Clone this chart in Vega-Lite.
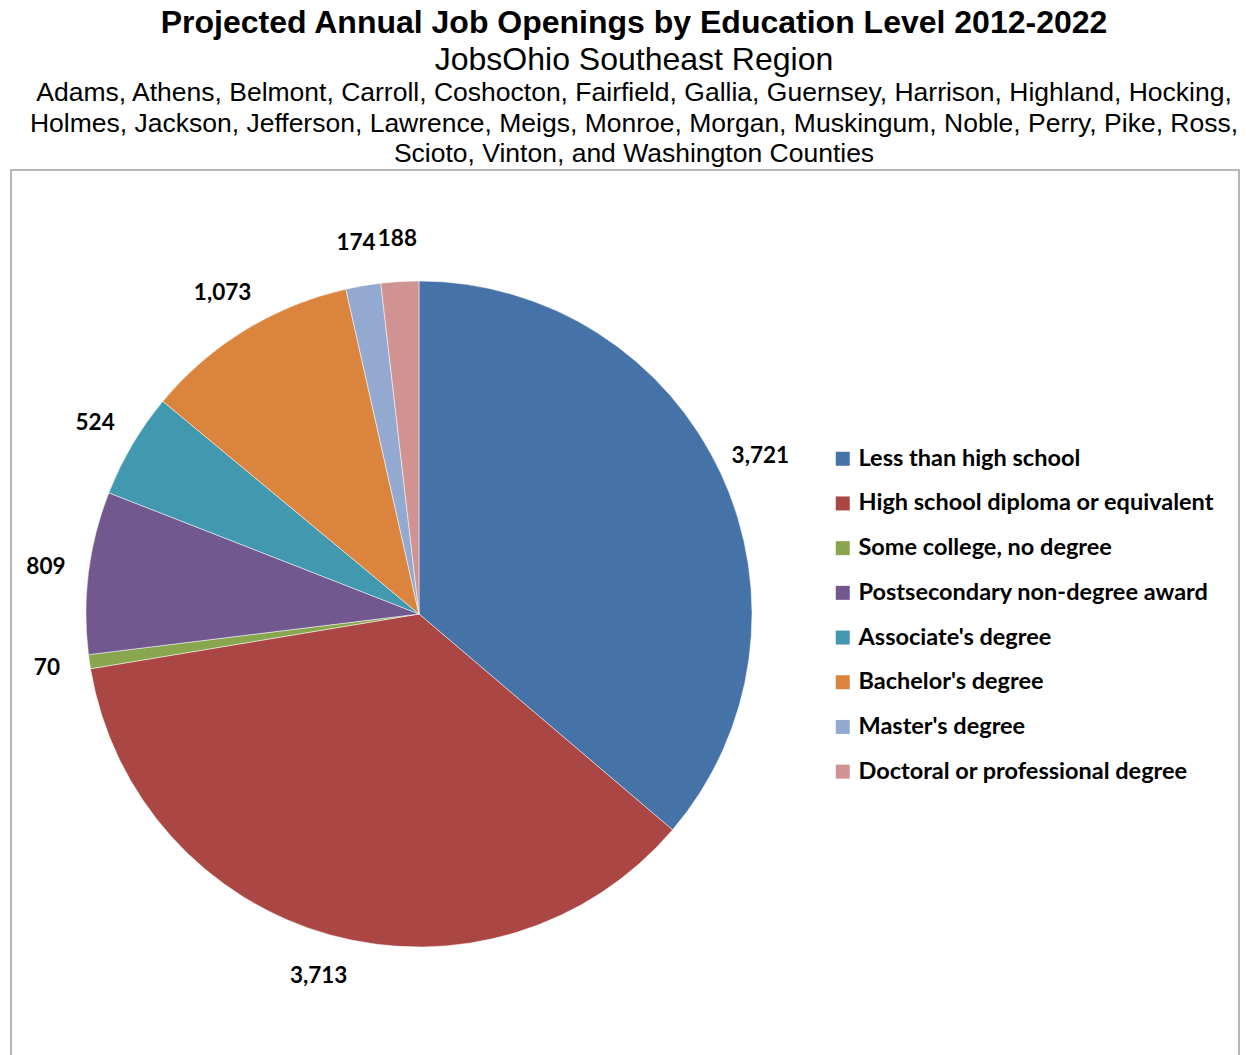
{
  "$schema": "https://vega.github.io/schema/vega-lite/v6.json",
  "background": "white",
  "padding": {"left": 10, "top": 7, "right": 0, "bottom": 0},
  "title": {
    "text": "Projected Annual Job Openings by Education Level 2012-2022",
    "subtitle": "JobsOhio Southeast Region",
    "font": "Liberation Sans",
    "fontSize": 32,
    "fontWeight": "bold",
    "color": "#000000",
    "subtitleFont": "Liberation Sans",
    "subtitleFontSize": 32,
    "subtitleColor": "#000000",
    "subtitlePadding": 5,
    "anchor": "middle",
    "offset": 2,
    "dx": 9
  },
  "datasets": {
    "jobs": [
      {"level": "Less than high school", "openings": 3721, "ord": 1},
      {"level": "High school diploma or equivalent", "openings": 3713, "ord": 2},
      {"level": "Some college, no degree", "openings": 70, "ord": 3},
      {"level": "Postsecondary non-degree award", "openings": 809, "ord": 4},
      {"level": "Associate's degree", "openings": 524, "ord": 5},
      {"level": "Bachelor's degree", "openings": 1073, "ord": 6},
      {"level": "Master's degree", "openings": 174, "ord": 7},
      {"level": "Doctoral or professional degree", "openings": 188, "ord": 8}
    ]
  },
  "vconcat": [
    {
      "title": {
        "text": [
          "Adams, Athens, Belmont, Carroll, Coshocton, Fairfield, Gallia, Guernsey, Harrison, Highland, Hocking,",
          "Holmes, Jackson, Jefferson, Lawrence, Meigs, Monroe, Morgan, Muskingum, Noble, Perry, Pike, Ross,",
          "Scioto, Vinton, and Washington Counties"
        ],
        "font": "Liberation Sans",
        "fontSize": 26.5,
        "fontWeight": "normal",
        "lineHeight": 30.7,
        "color": "#000000",
        "anchor": "middle",
        "offset": 2,
        "dx": 9
      },
      "width": 1228,
      "height": 900,
      "view": {"stroke": "#a0a0a0", "strokeWidth": 1.5, "fill": "white"},
      "data": {"name": "jobs"},
      "encoding": {
        "theta": {"field": "openings", "type": "quantitative", "stack": true},
        "order": {"field": "ord", "type": "quantitative"}
      },
      "layer": [
        {
          "mark": {"type": "arc", "x": 408, "y": 444, "outerRadius": 333, "stroke": "white", "strokeWidth": 0.5},
          "encoding": {
            "color": {
              "field": "level",
              "type": "nominal",
              "sort": {"field": "ord"},
              "scale": {
                "domain": ["Less than high school", "High school diploma or equivalent", "Some college, no degree", "Postsecondary non-degree award", "Associate's degree", "Bachelor's degree", "Master's degree", "Doctoral or professional degree"],
                "range": ["#4572A7", "#AA4643", "#89A54E", "#71588F", "#4198AF", "#DB843D", "#93A9CF", "#D19392"]
              },
              "legend": {
                "title": null,
                "orient": "none",
                "legendX": 820,
                "legendY": 277,
                "symbolType": "square",
                "symbolSize": 196,
                "symbolStrokeWidth": 0,
                "labelFont": "Lato",
                "labelFontWeight": "bold",
                "labelFontSize": 23.5,
                "labelColor": "#000000",
                "labelOffset": 4,
                "labelLimit": 450,
                "rowPadding": 19.7
              }
            }
          }
        },
        {
          "mark": {"type": "text", "x": 408, "y": 444, "radius": 376, "font": "Lato", "fontWeight": "bold", "fontSize": 22.5, "color": "#000000", "align": "center", "baseline": "middle"},
          "encoding": {
            "text": {"field": "openings", "type": "quantitative", "format": ","}
          }
        }
      ]
    }
  ]
}
